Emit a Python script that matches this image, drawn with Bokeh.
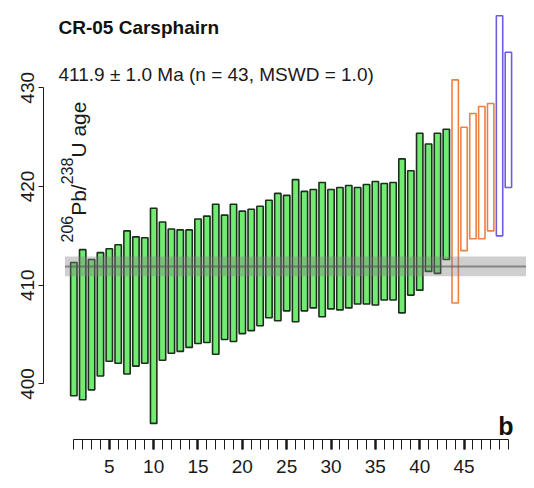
import math
from bokeh.plotting import figure
from bokeh.models import Range1d, FixedTicker
from bokeh.embed import file_html
from bokeh.resources import INLINE
from bokeh.core.properties import value

# ---------------- data ----------------
title_text = "CR-05 Carsphairn"
subtitle_text = "411.9 ± 1.0 Ma (n = 43, MSWD = 1.0)"
panel_letter = "b"
mean_age = 411.9
mean_err = 1.0

# accepted analyses (green), rank-ordered: lower / upper age bound (Ma)
acc_lo = [398.8, 398.4, 399.4, 400.8, 402.3, 402.1, 401.0, 401.8, 402.1, 396.0,
          402.4, 403.1, 403.3, 403.7, 404.1, 404.2, 403.0, 404.5, 404.3, 405.1,
          405.4, 405.9, 406.7, 406.4, 407.4, 406.3, 407.4, 407.7, 406.8, 407.6,
          407.5, 407.7, 408.1, 408.1, 408.0, 408.5, 408.5, 407.2, 409.0, 409.5,
          411.4, 411.2, 412.6]
acc_hi = [412.3, 413.6, 412.6, 413.3, 413.7, 414.1, 415.5, 414.9, 414.8, 417.8,
          416.4, 415.7, 415.6, 415.6, 416.7, 417.0, 418.2, 417.1, 418.2, 417.5,
          417.7, 418.0, 418.6, 419.3, 419.1, 420.7, 419.5, 419.7, 420.4, 419.7,
          419.9, 420.1, 419.9, 420.2, 420.5, 420.3, 420.4, 422.8, 421.6, 425.4,
          424.3, 425.4, 425.8]
# excluded analyses (orange)
rej_lo = [408.2, 413.5, 414.7, 414.7, 415.5]
rej_hi = [430.8, 426.0, 427.4, 428.1, 428.4]
# older analyses (blue)
old_lo = [415.0, 419.9]
old_hi = [437.3, 433.6]

y_ticks = [400, 410, 420, 430]
x_ticks = [5, 10, 15, 20, 25, 30, 35, 40, 45]

# ---------------- layout helpers ----------------
XR = (-2.42, 52.04)
YR = (394.37, 438.03)
FL, FT, FW, FH = 43.0, 8.0, 483.0, 431.0   # frame in page pixels


def dx(px):
    return XR[0] + (px - FL) / FW * (XR[1] - XR[0])


def dy(py):
    return YR[1] - (py - FT) / FH * (YR[1] - YR[0])


FONT = "Liberation Sans"

p = figure(width=526, height=488, output_backend="svg", toolbar_location=None,
           x_range=Range1d(*XR), y_range=Range1d(*YR),
           min_border=0, min_border_left=43, min_border_top=8,
           min_border_bottom=49, min_border_right=0)
p.outline_line_color = None
p.xgrid.visible = False
p.ygrid.visible = False
p.background_fill_color = "white"

n_acc = len(acc_lo)
n_rej = len(rej_lo)
n_old = len(old_lo)
n_all = n_acc + n_rej + n_old
rank_acc = list(range(1, n_acc + 1))
rank_rej = list(range(n_acc + 1, n_acc + n_rej + 1))
rank_old = list(range(n_acc + n_rej + 1, n_all + 1))

BW = 0.72
p.vbar(x=rank_acc, bottom=acc_lo, top=acc_hi, width=BW,
       fill_color="#72EB72", line_color="#1c2e1c", line_width=1.6)
p.vbar(x=rank_rej, bottom=rej_lo, top=rej_hi, width=BW,
       fill_color=None, line_color="#EE7F45", line_width=1.6)
p.vbar(x=rank_old, bottom=old_lo, top=old_hi, width=BW,
       fill_color=None, line_color="#6B5CE6", line_width=1.6)

# weighted mean band
p.quad(left=[0], right=[60], bottom=[mean_age - mean_err], top=[mean_age + mean_err],
       fill_color="#808080", fill_alpha=0.38, line_color=None)
p.segment(x0=[0], x1=[60], y0=[mean_age], y1=[mean_age],
          line_color="#555555", line_alpha=0.6, line_width=2)

# axes
ya = p.yaxis[0]
ya.bounds = (y_ticks[0], y_ticks[-1])
ya.ticker = FixedTicker(ticks=y_ticks, minor_ticks=[])
ya.major_tick_out = 5
ya.major_tick_in = 0
ya.minor_tick_out = 0
ya.major_label_orientation = "parallel"
ya.major_label_standoff = 4
ya.major_label_text_font = FONT
ya.major_label_text_font_size = "19px"
ya.major_label_text_color = "#1a1a1a"
ya.axis_line_color = "#1a1a1a"
ya.major_tick_line_color = "#1a1a1a"

xa = p.xaxis[0]
xa.bounds = (1, n_all)
xa.ticker = FixedTicker(ticks=x_ticks, minor_ticks=list(range(1, n_all + 1)))
xa.major_tick_out = 10
xa.major_tick_in = 0
xa.minor_tick_out = 10
xa.minor_tick_in = 0
xa.major_tick_line_width = 2.5
xa.minor_tick_line_width = 1
xa.major_label_standoff = 10
xa.major_label_text_font = FONT
xa.major_label_text_font_size = "19px"
xa.major_label_text_color = "#1a1a1a"
xa.axis_line_color = "#1a1a1a"
xa.major_tick_line_color = "#1a1a1a"
xa.minor_tick_line_color = "#1a1a1a"

# texts
p.text(x=[dx(58)], y=[dy(26.5)], text=[title_text], text_font=value(FONT),
       text_font_size="19px", text_font_style="bold", text_color="#111111",
       text_align="left", text_baseline="alphabetic")
p.text(x=[dx(58)], y=[dy(74)], text=[subtitle_text], text_font=value(FONT),
       text_font_size="19px", text_color="#1a1a1a",
       text_align="left", text_baseline="alphabetic")
p.text(x=[dx(513)], y=[dy(425)], text=[panel_letter], text_font=value(FONT),
       text_font_size="25px", text_font_style="bold", text_color="#111111",
       text_align="right", text_baseline="alphabetic")

# rotated y label: 206Pb/238U age
segs = [("206", 16, 66.0), ("Pb", 21, 78.0), ("/", 21, 78.0),
        ("238", 16, 66.0), ("U age", 21, 78.0)]
adv = {"206": 3 * 0.556, "Pb": 0.667 + 0.556, "/": 0.278, "238": 3 * 0.556,
       "U age": 0.722 + 0.278 + 3 * 0.556}
ypos = 242.0
for t, fs, bx in segs:
    p.text(x=[dx(bx)], y=[dy(ypos)], text=[t], angle=math.pi / 2,
           text_font=value(FONT), text_font_size=f"{fs}px", text_color="#1a1a1a",
           text_align="left", text_baseline="alphabetic")
    ypos -= adv[t] * fs

open("out.html", "w").write(file_html(p, INLINE))
